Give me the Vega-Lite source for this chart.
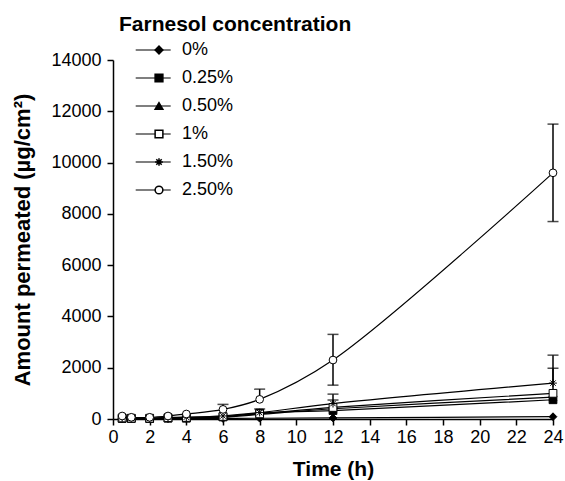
{
  "$schema": "https://vega.github.io/schema/vega-lite/v6.json",
  "width": 440,
  "height": 359,
  "autosize": "none",
  "padding": {"left": 113, "top": 60, "right": 12, "bottom": 62},
  "config": {
    "font": "Liberation Sans",
    "view": {"stroke": null},
    "axis": {
      "grid": false,
      "domainColor": "black",
      "tickColor": "black",
      "labelColor": "black",
      "titleColor": "black",
      "labelFontSize": 18,
      "titleFontSize": 21,
      "titleFontWeight": "bold",
      "tickSize": 6,
      "domainWidth": 1.5,
      "tickWidth": 1.5
    }
  },
  "data": {
    "values": [
      {"series": "0%", "time": 0.5, "value": 20},
      {"series": "0%", "time": 1, "value": 20},
      {"series": "0%", "time": 2, "value": 10},
      {"series": "0%", "time": 3, "value": 15},
      {"series": "0%", "time": 4, "value": 15},
      {"series": "0%", "time": 6, "value": 20},
      {"series": "0%", "time": 8, "value": 30},
      {"series": "0%", "time": 12, "value": 40},
      {"series": "0%", "time": 24, "value": 90},
      {"series": "0.25%", "time": 0.5, "value": 20},
      {"series": "0.25%", "time": 1, "value": 20},
      {"series": "0.25%", "time": 2, "value": 15},
      {"series": "0.25%", "time": 3, "value": 30},
      {"series": "0.25%", "time": 4, "value": 30},
      {"series": "0.25%", "time": 6, "value": 80},
      {"series": "0.25%", "time": 8, "value": 230, "lo": 230, "hi": 390},
      {"series": "0.25%", "time": 12, "value": 330},
      {"series": "0.25%", "time": 24, "value": 750},
      {"series": "0.50%", "time": 0.5, "value": 30},
      {"series": "0.50%", "time": 1, "value": 25},
      {"series": "0.50%", "time": 2, "value": 20},
      {"series": "0.50%", "time": 3, "value": 30},
      {"series": "0.50%", "time": 4, "value": 40},
      {"series": "0.50%", "time": 6, "value": 70},
      {"series": "0.50%", "time": 8, "value": 180},
      {"series": "0.50%", "time": 12, "value": 400, "lo": 400, "hi": 740},
      {"series": "0.50%", "time": 24, "value": 850},
      {"series": "1%", "time": 0.5, "value": 40},
      {"series": "1%", "time": 1, "value": 30},
      {"series": "1%", "time": 2, "value": 30},
      {"series": "1%", "time": 3, "value": 50},
      {"series": "1%", "time": 4, "value": 60},
      {"series": "1%", "time": 6, "value": 100},
      {"series": "1%", "time": 8, "value": 200},
      {"series": "1%", "time": 12, "value": 450},
      {"series": "1%", "time": 24, "value": 1000, "lo": 1000, "hi": 1980},
      {"series": "1.50%", "time": 0.5, "value": 50},
      {"series": "1.50%", "time": 1, "value": 40},
      {"series": "1.50%", "time": 2, "value": 30},
      {"series": "1.50%", "time": 3, "value": 60},
      {"series": "1.50%", "time": 4, "value": 70},
      {"series": "1.50%", "time": 6, "value": 120},
      {"series": "1.50%", "time": 8, "value": 250},
      {"series": "1.50%", "time": 12, "value": 600, "lo": 600, "hi": 970},
      {"series": "1.50%", "time": 24, "value": 1400, "lo": 1400, "hi": 2490},
      {"series": "2.50%", "time": 0.5, "value": 117},
      {"series": "2.50%", "time": 1, "value": 66},
      {"series": "2.50%", "time": 2, "value": 66},
      {"series": "2.50%", "time": 3, "value": 117},
      {"series": "2.50%", "time": 4, "value": 195},
      {"series": "2.50%", "time": 6, "value": 375, "lo": 375, "hi": 570},
      {"series": "2.50%", "time": 8, "value": 766, "lo": 766, "hi": 1165},
      {"series": "2.50%", "time": 12, "value": 2300, "lo": 1320, "hi": 3300},
      {"series": "2.50%", "time": 24, "value": 9600, "lo": 7700, "hi": 11500}
    ]
  },
  "encoding": {
    "x": {
      "field": "time",
      "type": "quantitative",
      "scale": {"domain": [0, 24], "nice": false},
      "axis": {
        "values": [0, 2, 4, 6, 8, 10, 12, 14, 16, 18, 20, 22, 24],
        "title": "Time (h)",
        "labelFlush": false,
        "labelPadding": 3,
        "titlePadding": 12
      }
    }
  },
  "layer": [
    {
      "transform": [{"filter": "datum.hi != null"}],
      "mark": {"type": "rule", "color": "black", "strokeWidth": 1.5},
      "encoding": {
        "y": {"field": "lo", "type": "quantitative"},
        "y2": {"field": "hi"}
      }
    },
    {
      "transform": [{"filter": "datum.hi != null"}],
      "mark": {"type": "tick", "orient": "horizontal", "color": "black", "size": 11, "thickness": 1.5},
      "encoding": {
        "y": {"field": "hi", "type": "quantitative"}
      }
    },
    {
      "transform": [{"filter": "datum.hi != null && datum.lo < datum.value"}],
      "mark": {"type": "tick", "orient": "horizontal", "color": "black", "size": 11, "thickness": 1.5},
      "encoding": {
        "y": {"field": "lo", "type": "quantitative"}
      }
    },
    {
      "mark": {"type": "line", "strokeWidth": 1.2, "interpolate": "catmull-rom"},
      "encoding": {
        "y": {
          "field": "value",
          "type": "quantitative",
          "scale": {"domain": [0, 14000], "nice": false},
          "axis": {
            "values": [0, 2000, 4000, 6000, 8000, 10000, 12000, 14000],
            "format": "d",
            "title": "Amount permeated (µg/cm²)",
            "titleFontSize": 22,
            "labelPadding": 6,
            "titlePadding": 16
          }
        },
        "detail": {"field": "series"},
        "stroke": {
          "field": "series",
          "type": "nominal",
          "scale": {"domain": ["0%", "0.25%", "0.50%", "1%", "1.50%", "2.50%"], "range": ["black", "black", "black", "black", "black", "black"]},
          "legend": {
            "orient": "none",
            "legendX": 6,
            "legendY": -46,
            "title": "Farnesol concentration",
            "titleFontSize": 21,
            "titleFontWeight": "bold",
            "titleColor": "black",
            "titleLimit": 500,
            "titlePadding": 6,
            "labelFontSize": 18,
            "labelColor": "black",
            "labelOffset": 45,
            "rowPadding": 10,
            "symbolType": "M1.54,0H8.54",
            "symbolSize": 100,
            "symbolStrokeWidth": 1.2,
            "symbolStrokeColor": "black"
          }
        }
      }
    },
    {
      "mark": {"type": "point", "filled": false, "stroke": "black", "strokeWidth": 1, "opacity": 1, "size": 60},
      "encoding": {
        "y": {"field": "value", "type": "quantitative"},
        "shape": {
          "field": "series",
          "type": "nominal",
          "scale": {"range": ["diamond", "square", "triangle-up", "square", "M-1,0H1M0,-1V1M-0.7,-0.7L0.7,0.7M-0.7,0.7L0.7,-0.7", "circle"]},
          "legend": {
            "orient": "none",
            "legendX": 6,
            "legendY": -46,
            "title": "Farnesol concentration",
            "titleFontSize": 21,
            "titleFontWeight": "bold",
            "titleOpacity": 0,
            "titleLimit": 500,
            "titlePadding": 6,
            "labelFontSize": 18,
            "labelExpr": "''",
            "rowPadding": 10,
            "symbolSize": 60,
            "symbolOffset": 31,
            "encode": {"symbols": {"update": {"stroke": {"value": "black"}, "strokeWidth": {"value": 1}, "opacity": {"value": 1}}}}
          }
        },
        "fill": {
          "field": "series",
          "type": "nominal",
          "scale": {"range": ["black", "black", "black", "white", "black", "white"]},
          "legend": {
            "orient": "none",
            "legendX": 6,
            "legendY": -46,
            "title": "Farnesol concentration",
            "titleFontSize": 21,
            "titleFontWeight": "bold",
            "titleOpacity": 0,
            "titleLimit": 500,
            "titlePadding": 6,
            "labelFontSize": 18,
            "labelExpr": "''",
            "rowPadding": 10,
            "symbolSize": 60,
            "symbolOffset": 31,
            "encode": {"symbols": {"update": {"stroke": {"value": "black"}, "strokeWidth": {"value": 1}, "opacity": {"value": 1}}}}
          }
        }
      }
    }
  ]
}
